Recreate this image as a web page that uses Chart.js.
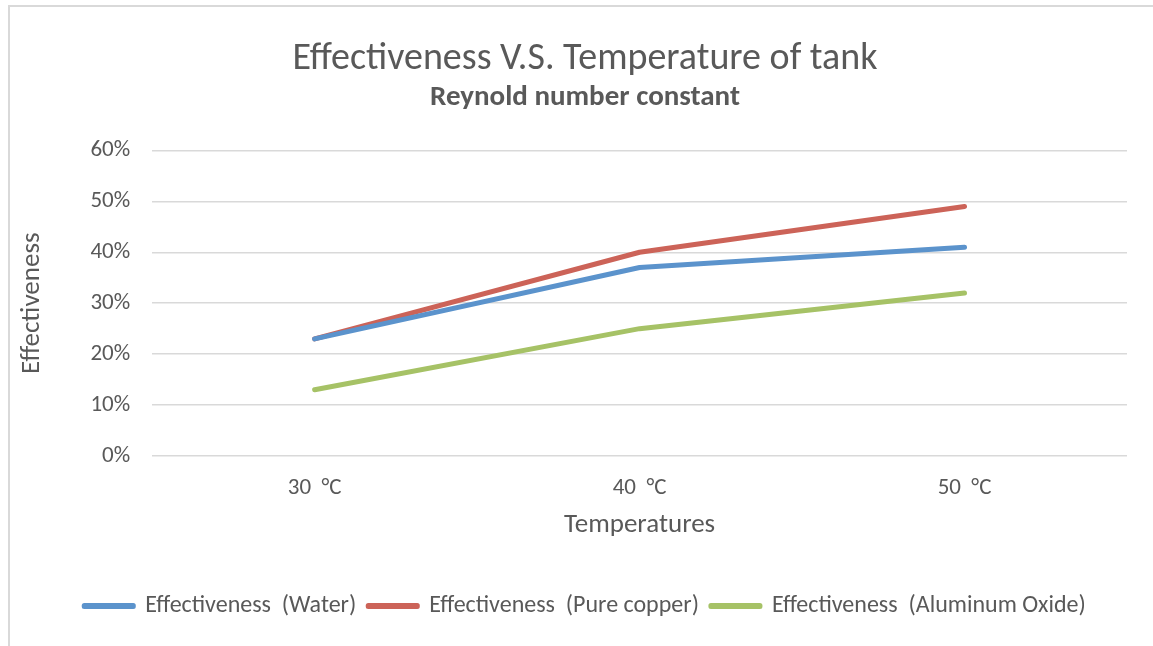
<!DOCTYPE html>
<html>
<head>
<meta charset="utf-8">
<script src="https://cdn.jsdelivr.net/npm/chart.js"></script>
<style>
  html, body { margin: 0; padding: 0; background: #fff; }
  #wrap {
    position: absolute; left: 8px; top: 5px; width: 1145px; height: 641px;
    border-left: 2px solid #d9d9d9; border-top: 2px solid #d9d9d9;
    box-sizing: border-box;
  }
  canvas { display: block; }
</style>
</head>
<body>
<div id="wrap"><canvas id="chart"></canvas></div>
<script>
  var temperatures = ['30  °C', '40  °C', '50  °C'];
  var water = [0.23, 0.37, 0.41];
  var pureCopper = [0.23, 0.40, 0.49];
  var aluminumOxide = [0.13, 0.25, 0.32];

  var fontFamily = 'Carlito, Lato, "Liberation Sans", sans-serif';
  var textColor = '#595959';
  var gridColor = '#d9d9d9';

  function series(label, data, color) {
    return {
      label: label,
      data: data,
      borderColor: color,
      backgroundColor: color,
      borderWidth: 5,
      borderCapStyle: 'round',
      borderJoinStyle: 'round',
      pointRadius: 0,
      pointHoverRadius: 0,
      tension: 0
    };
  }

  var ctx = document.getElementById('chart');
  ctx.width = 1143;
  ctx.height = 639;

  new Chart(ctx, {
    type: 'line',
    data: {
      labels: temperatures,
      datasets: [
        series('Effectiveness  (Water)', water, '#5b93cc'),
        series('Effectiveness  (Pure copper)', pureCopper, '#cc6358'),
        series('Effectiveness  (Aluminum Oxide)', aluminumOxide, '#a6c266')
      ]
    },
    options: {
      responsive: false,
      animation: false,
      layout: { padding: { left: 33, right: 26, top: 10, bottom: 18 } },
      plugins: {
        title: {
          display: true,
          text: 'Effectiveness V.S. Temperature of tank',
          color: textColor,
          font: { family: fontFamily, size: 38, weight: 'normal' },
          padding: { top: 20, bottom: 0 }
        },
        subtitle: {
          display: true,
          text: 'Reynold number constant',
          color: textColor,
          font: { family: fontFamily, size: 29, weight: 'bold' },
          padding: { top: -2, bottom: 35 }
        },
        legend: {
          position: 'bottom',
          labels: {
            color: textColor,
            font: { family: fontFamily, size: 24 },
            boxWidth: 49,
            boxHeight: 1,
            padding: 12
          }
        },
        tooltip: { enabled: false }
      },
      scales: {
        x: {
          offset: true,
          grid: { display: false, drawTicks: false },
          border: { display: false },
          ticks: {
            color: textColor,
            font: { family: fontFamily, size: 23 },
            padding: 18
          },
          title: {
            display: true,
            text: 'Temperatures',
            color: textColor,
            font: { family: fontFamily, size: 27 },
            padding: { top: -11, bottom: 41 }
          }
        },
        y: {
          min: 0,
          max: 0.6,
          ticks: {
            stepSize: 0.1,
            color: textColor,
            font: { family: fontFamily, size: 23 },
            padding: 22,
            callback: function(v) { return Math.round(v * 100) + '%'; }
          },
          grid: { color: gridColor, lineWidth: 1.5, drawTicks: false },
          border: { display: false },
          title: {
            display: true,
            text: 'Effectiveness',
            color: textColor,
            font: { family: fontFamily, size: 27 },
            padding: { top: -27, bottom: 20 }
          }
        }
      }
    }
  });
</script>
</body>
</html>
